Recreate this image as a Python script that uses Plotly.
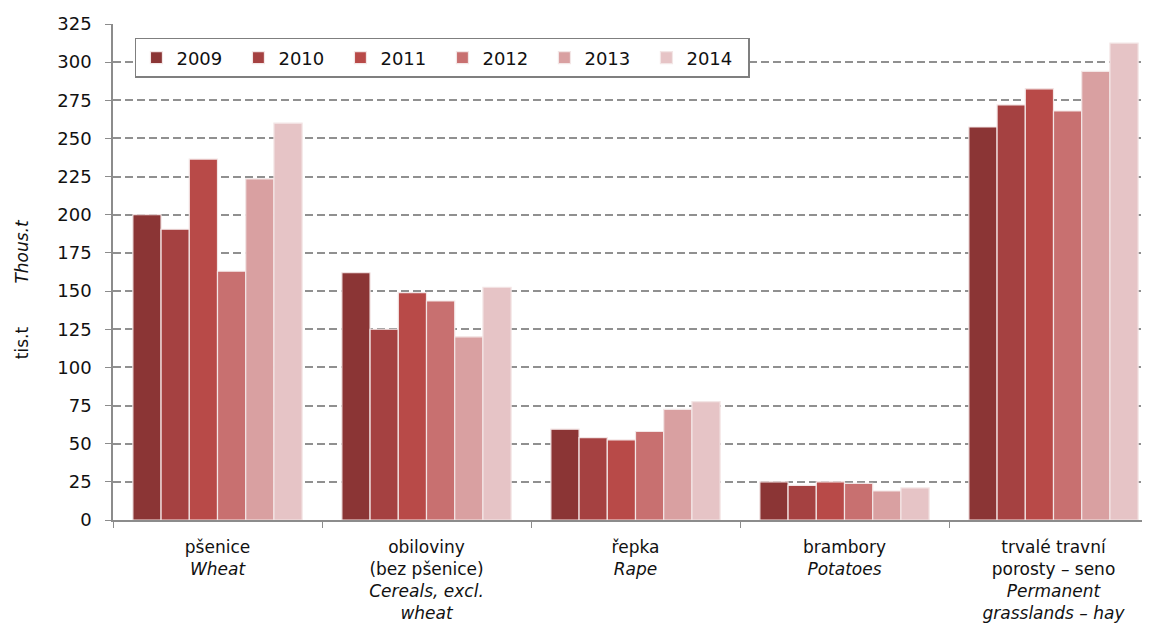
import plotly.graph_objects as go

# Categories (Czech + English)
categories = [
    "pšenice<br><i>Wheat</i>",
    "obiloviny<br>(bez pšenice)<br><i>Cereals, excl.</i><br><i>wheat</i>",
    "řepka<br><i>Rape</i>",
    "brambory<br><i>Potatoes</i>",
    "trvalé travní<br>porosty – seno<br><i>Permanent</i><br><i>grasslands – hay</i>",
]

years = ["2009", "2010", "2011", "2012", "2013", "2014"]

# thousand tonnes
v2009 = [200, 162, 59.5, 25, 257.5]
v2010 = [190.5, 125, 54, 22.7, 272]
v2011 = [236.5, 149, 52.5, 25, 282.5]
v2012 = [163, 143.5, 58, 24, 268]
v2013 = [223.5, 120, 72.5, 19, 294]
v2014 = [260, 152.5, 77.5, 21, 312.5]
values = [v2009, v2010, v2011, v2012, v2013, v2014]

colors = ["#8B3535", "#A54141", "#B84A48", "#C87070", "#D9A0A1", "#E6C4C6"]

fig = go.Figure()
for year, vals, col in zip(years, values, colors):
    fig.add_trace(go.Bar(
        x=categories, y=vals, name=year,
        marker=dict(color=col, line=dict(color="#F3E6E6", width=1.2)),
    ))

fig.update_layout(
    width=1150, height=628,
    barmode="group", bargap=0.19, bargroupgap=0,
    plot_bgcolor="white", paper_bgcolor="white",
    font=dict(family="DejaVu Sans, Arial, sans-serif", size=17, color="#111111"),
    margin=dict(l=105, r=0, t=16, b=116, autoexpand=False),
    legend=dict(
        orientation="h", x=0.021, y=0.972, xanchor="left", yanchor="top",
        bordercolor="#7f7f7f", borderwidth=1.5, bgcolor="white",
        font=dict(size=18), itemwidth=30,
        entrywidthmode="pixels", entrywidth=57,
    ),
    showlegend=True,
)

fig.update_yaxes(
    range=[0, 325], dtick=25, tick0=0, automargin=False,
    showgrid=True, gridcolor="#909090", griddash="8px,4px", gridwidth=1.5,
    showline=True, linecolor="#8c8c8c", linewidth=1.5,
    ticks="outside", ticklen=6, tickcolor="#8c8c8c", ticklabelstandoff=10,
    tickfont=dict(size=18), zeroline=False,
)
fig.update_xaxes(
    automargin=False,
    showline=True, linecolor="#8c8c8c", linewidth=1.5,
    ticks="outside", tickson="boundaries", ticklen=6, tickcolor="#8c8c8c",
    ticklabelstandoff=11,
    tickfont=dict(size=17),
)

fig.add_annotation(
    xref="paper", yref="paper", x=-0.0868, y=0.466,
    xanchor="center", yanchor="middle",
    text="tis.t        <i>Thous.t</i>", textangle=-90,
    showarrow=False, font=dict(size=17),
)

fig.write_html("out.html")
